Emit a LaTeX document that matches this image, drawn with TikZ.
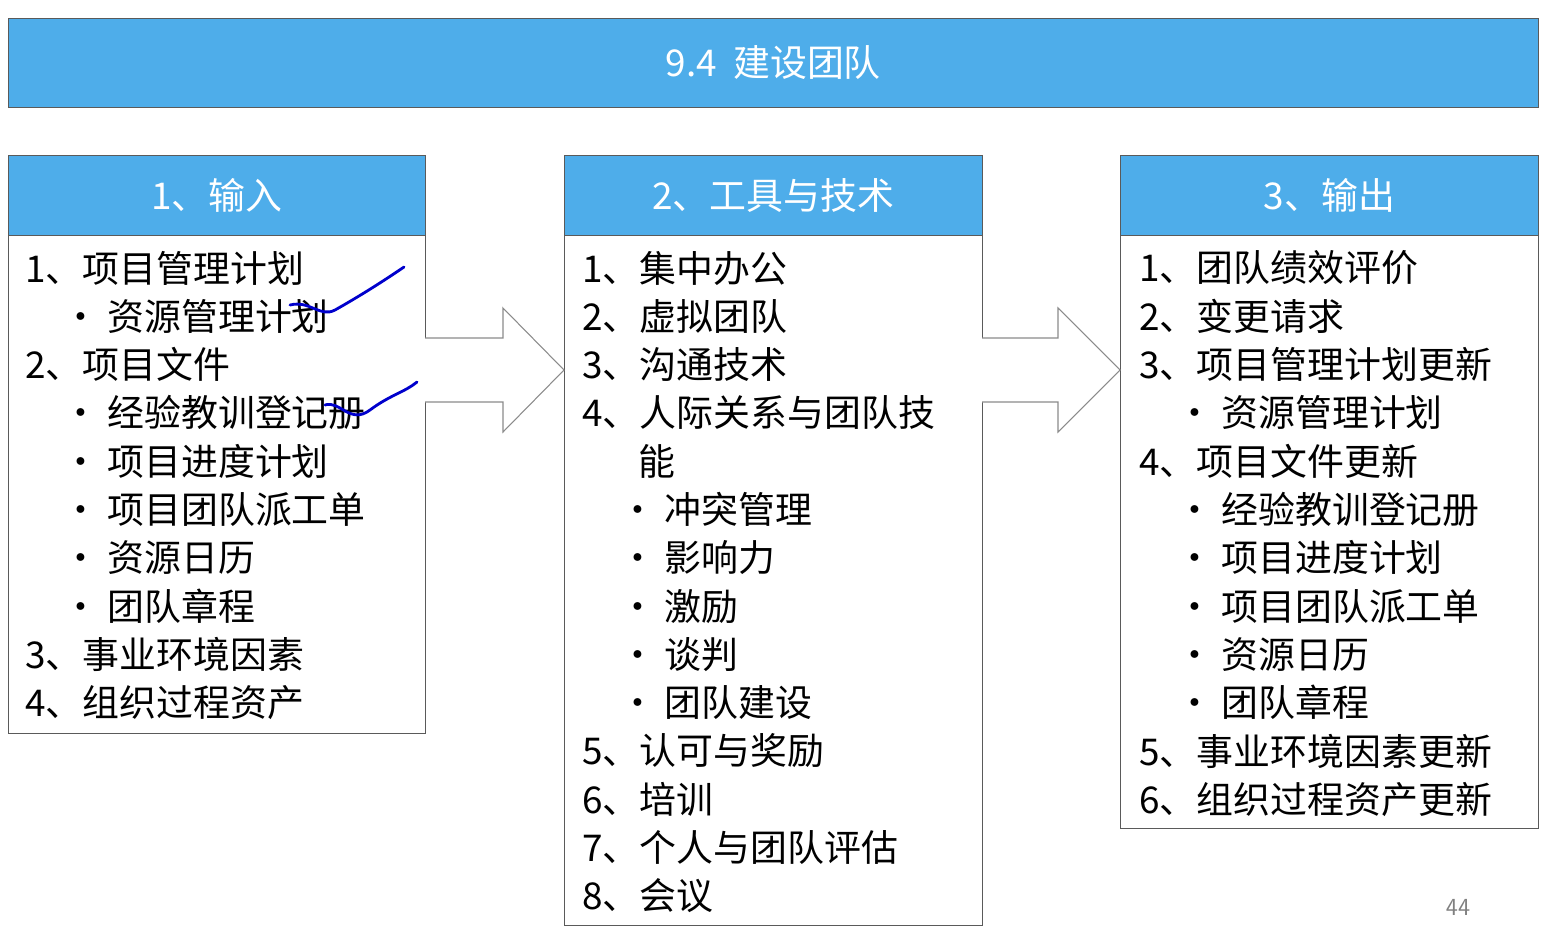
\documentclass[tikz,border=0pt]{standalone}
\usepackage{fontspec}
\newfontfamily\cjk{Noto Sans CJK SC}
\usepackage{tikz}
\usetikzlibrary{positioning,calc}
\definecolor{headblue}{RGB}{78,173,234}
\definecolor{frame}{RGB}{90,90,90}

\begin{document}
\begin{tikzpicture}[
    x=0.02cm,
    y=-0.02cm,
    header/.style={
        draw=frame,
        fill=headblue,
        text=white,
        font=\cjk\fontsize{21}{25}\selectfont
    },
    body/.style={
        draw=frame,
        fill=white
    },
    item/.style={
        anchor=west,
        inner sep=0pt,
        font=\cjk\fontsize{21}{25}\selectfont
    },
    bigarrow/.style={
        draw=frame!70,
        fill=white,
        line width=0.6pt
    }
]
\useasboundingbox (0,0) rectangle (1550,944);

% Title
\node [header, minimum width=30.6cm, minimum height=1.78cm, anchor=north west] (title) at (8,18) {9.4\ \ 建设团队};

% Boxes
\draw [body] (8,235) rectangle (425,733);
\draw [body] (564,235) rectangle (982,925);
\draw [body] (1120,235) rectangle (1538,828);
\node [header, minimum width=8.34cm, minimum height=1.6cm, anchor=north west] (inhead) at (8,155) {1、输入};
\node [header, minimum width=8.36cm, minimum height=1.6cm, anchor=north west] (toolhead) at (564,155) {2、工具与技术};
\node [header, minimum width=8.36cm, minimum height=1.6cm, anchor=north west] (outhead) at (1120,155) {3、输出};

% Arrows
\draw [bigarrow] (425,338) -- (503,338) -- (503,308) -- (564,370) -- (503,432) -- (503,402) -- (425,402);
\draw [bigarrow] (982,338) -- (1058,338) -- (1058,308) -- (1120,370) -- (1058,432) -- (1058,402) -- (982,402);

% Input items
\foreach \x/\t [count=\i from 0] in {
    25/1、项目管理计划, 62/• 资源管理计划, 25/2、项目文件, 62/• 经验教训登记册,
    62/• 项目进度计划, 62/• 项目团队派工单, 62/• 资源日历, 62/• 团队章程,
    25/3、事业环境因素, 25/4、组织过程资产}
    \node [item] (in\i) at (\x,{268+48.3*\i}) {\t};

% Tool items
\foreach \x/\t [count=\i from 0] in {
    582/1、集中办公, 582/2、虚拟团队, 582/3、沟通技术, 582/4、人际关系与团队技,
    638/能, 619/• 冲突管理, 619/• 影响力, 619/• 激励, 619/• 谈判, 619/• 团队建设,
    582/5、认可与奖励, 582/6、培训, 582/7、个人与团队评估, 582/8、会议}
    \node [item] (tool\i) at (\x,{268+48.3*\i}) {\t};

% Output items
\foreach \x/\t [count=\i from 0] in {
    1139/1、团队绩效评价, 1139/2、变更请求, 1139/3、项目管理计划更新, 1176/• 资源管理计划,
    1139/4、项目文件更新, 1176/• 经验教训登记册, 1176/• 项目进度计划, 1176/• 项目团队派工单,
    1176/• 资源日历, 1176/• 团队章程, 1139/5、事业环境因素更新, 1139/6、组织过程资产更新}
    \node [item] (out\i) at (\x,{268+48.3*\i}) {\t};

% Pen marks
\draw [blue!80!black, line width=1.6pt, line cap=round] (290,305) .. controls (310,300) and (320,318) .. (335,310) .. controls (360,296) and (385,280) .. (404,267);
\draw [blue!80!black, line width=1.6pt, line cap=round] (325,405) .. controls (340,400) and (350,425) .. (370,410) .. controls (390,395) and (405,392) .. (417,382);

\node [text=gray, font=\sffamily\fontsize{14}{16}\selectfont] (page) at (1458,907) {44};
\end{tikzpicture}
\end{document}
